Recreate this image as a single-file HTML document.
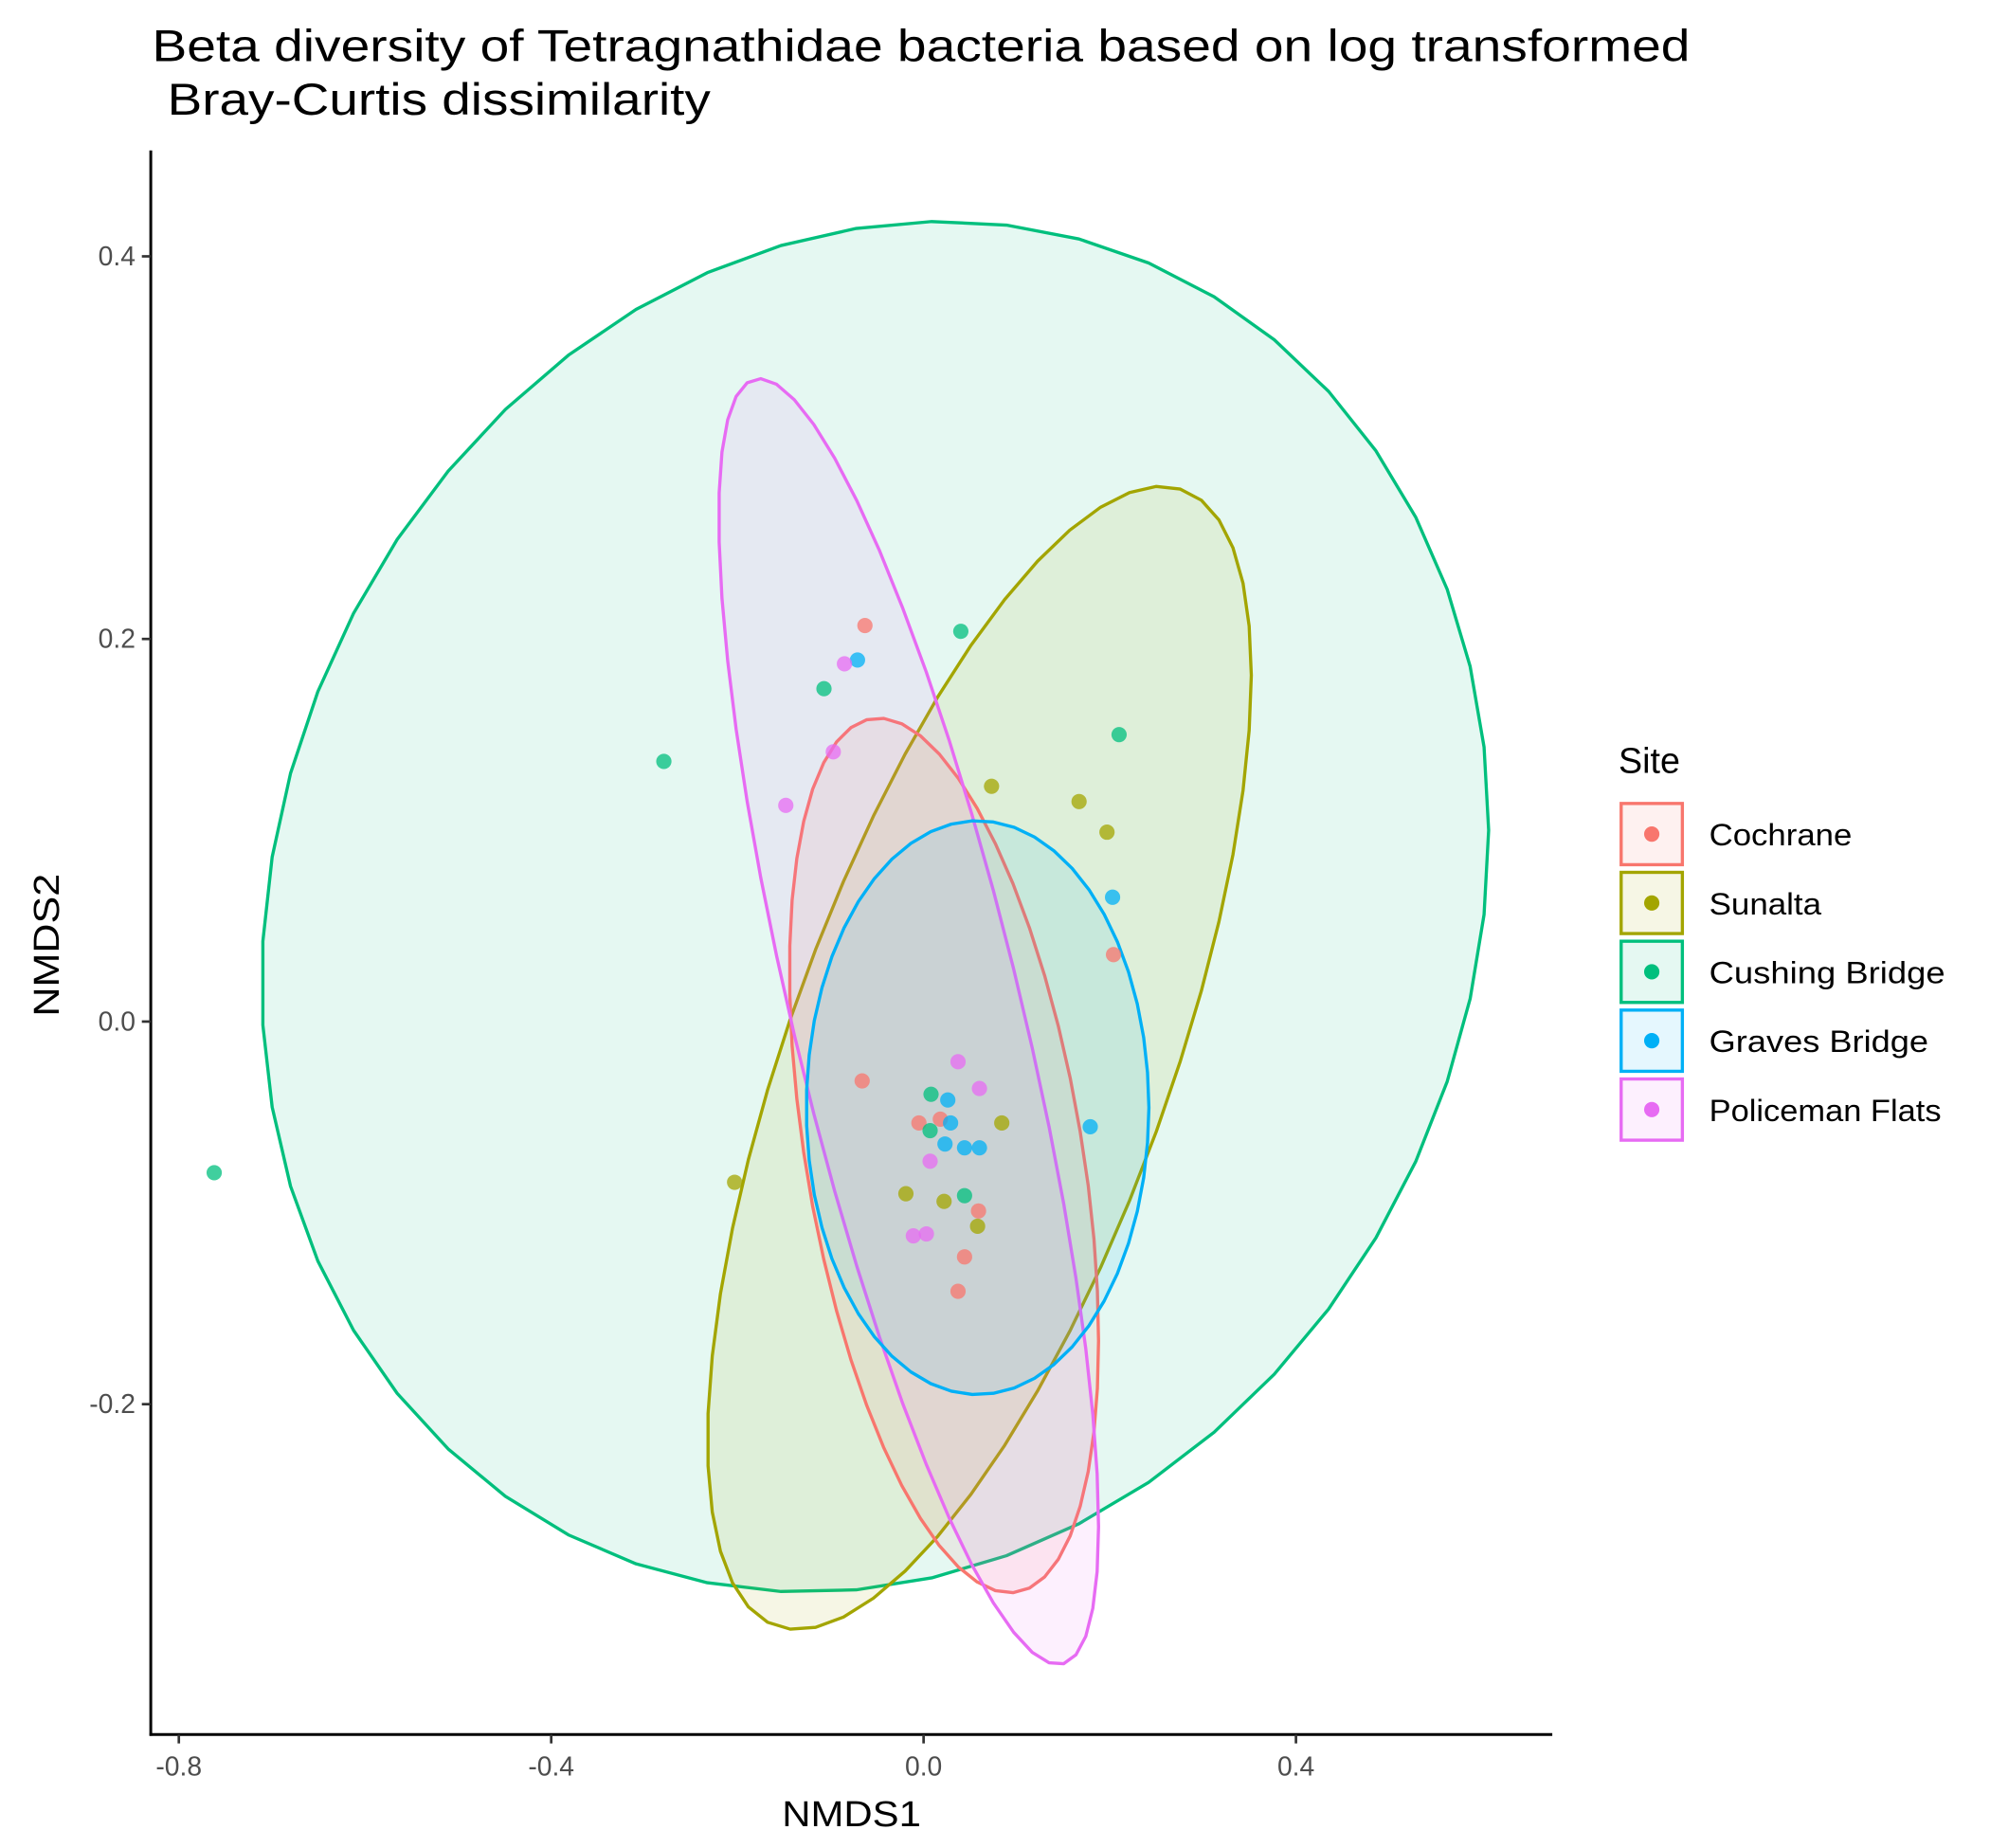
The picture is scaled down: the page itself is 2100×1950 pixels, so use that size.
<!DOCTYPE html>
<html><head><meta charset="utf-8"><style>
html,body{margin:0;padding:0;background:#fff;}
svg{display:block;font-family:"Liberation Sans",Arial,sans-serif;}
</style></head><body>
<svg id="chart" width="2100" height="1950" viewBox="0 0 1560 1449" xmlns="http://www.w3.org/2000/svg">
<rect width="1560" height="1449" fill="#fff"/>
<text x="119" y="48" font-size="35" textLength="1206" lengthAdjust="spacingAndGlyphs" fill="#000">Beta diversity of Tetragnathidae bacteria based on log transformed</text>
<text x="131" y="90" font-size="35" textLength="426" lengthAdjust="spacingAndGlyphs" fill="#000">Bray-Curtis dissimilarity</text>
<g id="plot"></g>
<g id="axes"></g>
<text x="613" y="1432" font-size="28" textLength="109" lengthAdjust="spacingAndGlyphs">NMDS1</text>
<text transform="translate(46,797) rotate(-90)" font-size="28" textLength="112" lengthAdjust="spacingAndGlyphs">NMDS2</text>
<g id="legend"></g>
</svg>
<script>
const sites = ["Cochrane","Sunalta","Cushing Bridge","Graves Bridge","Policeman Flats"];
const colors = ["#F8766D","#A3A500","#00BF7D","#00B0F6","#E76BF3"];
const xTicks = [-0.8,-0.4,0.0,0.4];
const yTicks = [0.4,0.2,0.0,-0.2];
const xTickLabels = ["-0.8","-0.4","0.0","0.4"];
const yTickLabels = ["0.4","0.2","0.0","-0.2"];
const legendLabelWidths = [112,88,185,172,182];
// ellipse params (data units): cx, cy, A, C, D  -> x=cx+A cos t, y=cy+C cos t + D sin t
const ellCx = [0.022, 0.060, -0.052, 0.058, -0.016];
const ellCy = [-0.070, -0.019, 0.060, -0.045, 0.000];
const ellA  = [0.166, 0.292, 0.659, 0.184, 0.204];
const ellC  = [-0.097, 0.200, 0.040, 0.000, -0.264];
const ellD  = [0.207, 0.222, 0.356, 0.150, 0.208];
const ptX = [
 [-0.063,0.204,-0.066,-0.005,0.018,0.059,0.044,0.037],
 [0.073,0.167,0.197,-0.203,-0.019,0.022,0.058,0.084],
 [0.040,0.210,-0.107,-0.279,-0.762,0.008,0.007,0.044],
 [-0.071,0.203,0.179,0.026,0.029,0.023,0.044,0.060],
 [-0.085,-0.097,-0.148,0.037,0.060,0.007,-0.011,0.003]];
const ptY = [
 [0.207,0.035,-0.031,-0.053,-0.051,-0.099,-0.123,-0.141],
 [0.123,0.115,0.099,-0.084,-0.090,-0.094,-0.107,-0.053],
 [0.204,0.150,0.174,0.136,-0.079,-0.038,-0.057,-0.091],
 [0.189,0.065,-0.055,-0.041,-0.053,-0.064,-0.066,-0.066],
 [0.187,0.141,0.113,-0.021,-0.035,-0.073,-0.112,-0.111]];

const NS="http://www.w3.org/2000/svg";
const sx = v => 724 + v*730;
const sy = v => 801 - v*1500;
function mk(tag, attrs, parent){const e=document.createElementNS(NS,tag);for(const k in attrs)e.setAttribute(k,attrs[k]);parent.appendChild(e);return e;}
const plot=document.getElementById('plot'), axes=document.getElementById('axes'), legend=document.getElementById('legend');

const order=[2,1,0,4,3];
order.forEach(i=>{
  const pts=[];
  for(let k=0;k<51;k++){const t=2*Math.PI*k/51;
    pts.push(sx(ellCx[i]+ellA[i]*Math.cos(t)).toFixed(1)+","+sy(ellCy[i]+ellC[i]*Math.cos(t)+ellD[i]*Math.sin(t)).toFixed(1));}
  const p=mk('polygon',{points:pts.join(' '),fill:colors[i],'fill-opacity':0.1,stroke:colors[i],'stroke-width':2.5,'stroke-linejoin':'round'},plot);
  
  
});
sites.forEach((s,i)=>{
  ptX[i].forEach((x,j)=>{
    const c=mk('circle',{cx:sx(x),cy:sy(ptY[i][j]),r:6,fill:colors[i],'fill-opacity':0.75},plot);
    
    
  });
});
mk('line',{x1:118,y1:118,x2:118,y2:1361,stroke:'#000','stroke-width':2.2},axes);
mk('line',{x1:117,y1:1360,x2:1217,y2:1360,stroke:'#000','stroke-width':2.2},axes);
xTicks.forEach((v,i)=>{
  mk('line',{x1:sx(v),y1:1360,x2:sx(v),y2:1367,stroke:'#333','stroke-width':2},axes);
  const t=mk('text',{x:sx(v),y:1392,'font-size':21,fill:'#4d4d4d','text-anchor':'middle'},axes);
  t.textContent=xTickLabels[i];
  
  
});
yTicks.forEach((v,i)=>{
  mk('line',{x1:111,y1:sy(v),x2:118,y2:sy(v),stroke:'#333','stroke-width':2},axes);
  const t=mk('text',{x:106,y:sy(v)+7,'font-size':21,fill:'#4d4d4d','text-anchor':'end'},axes);
  t.textContent=yTickLabels[i];
  
  
});
const lt=mk('text',{x:1269,y:606,'font-size':28},legend);
lt.textContent="Site";


sites.forEach((s,i)=>{
  const y0=630+i*54;
  const g=mk('g',{},legend);
  
  
  mk('rect',{x:1271,y:y0,width:48,height:48,fill:colors[i],'fill-opacity':0.1,stroke:colors[i],'stroke-width':2.5},g);
  mk('circle',{cx:1295,cy:y0+24,r:6,fill:colors[i]},g);
  const t=mk('text',{x:1340,y:y0+33,'font-size':24,textLength:legendLabelWidths[i],lengthAdjust:'spacingAndGlyphs'},g);
  t.textContent=s;
});
</script>
</body></html>
